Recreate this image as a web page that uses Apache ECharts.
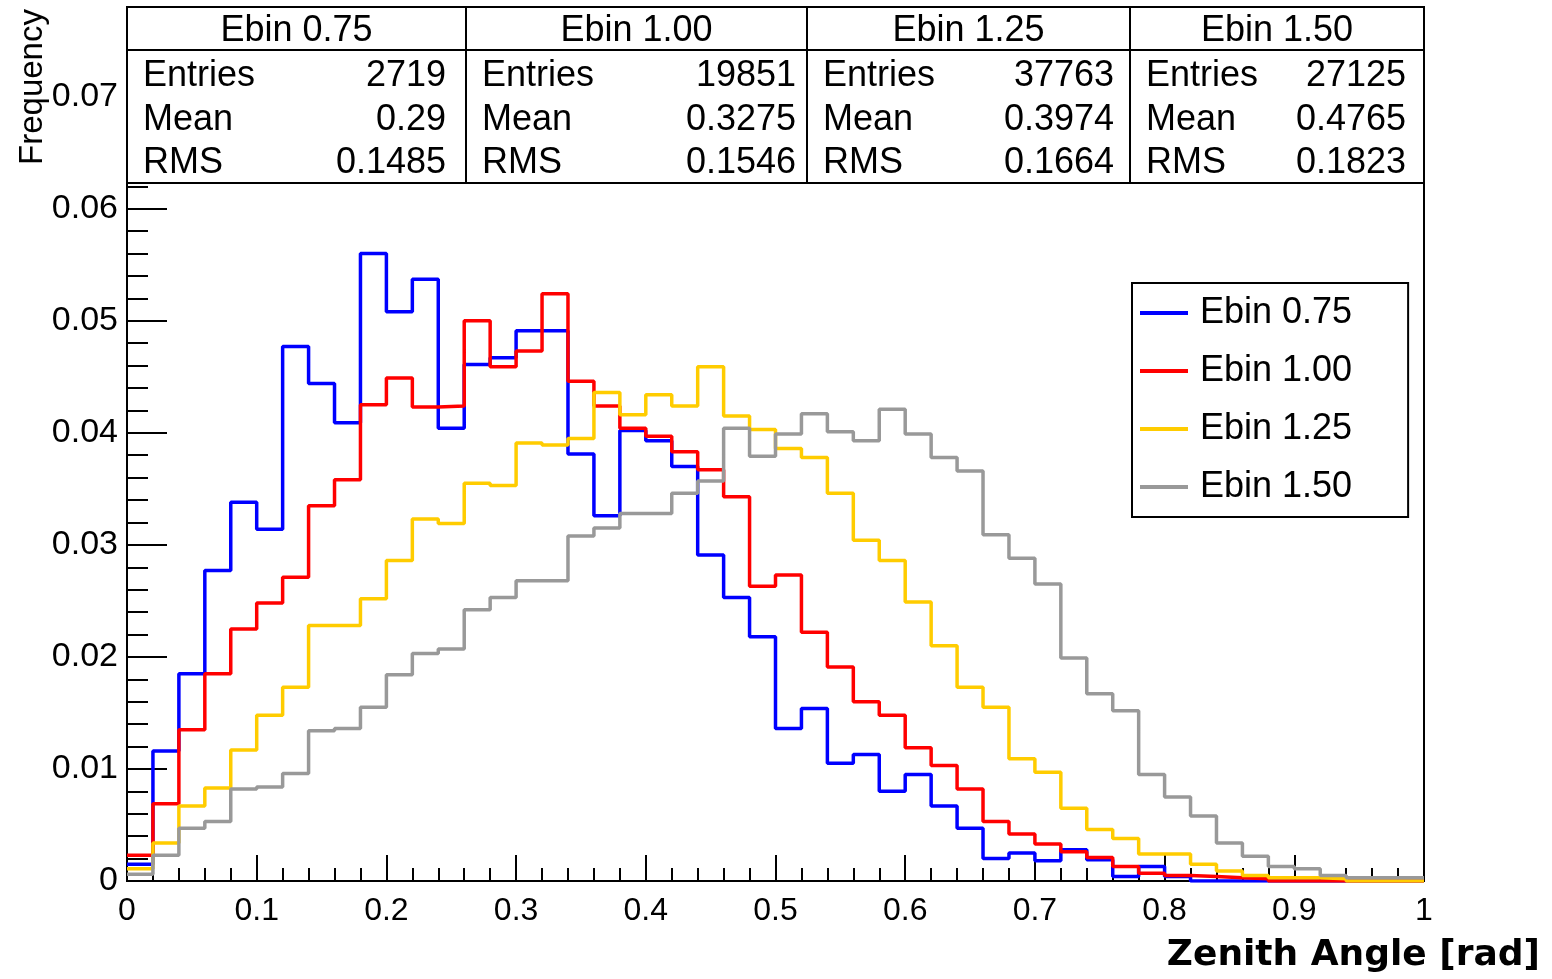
<!DOCTYPE html>
<html>
<head>
<meta charset="utf-8">
<script src="https://cdn.jsdelivr.net/npm/echarts@6/dist/echarts.min.js"></script>
<style>
  html, body { margin: 0; padding: 0; background: #fff; }
  #chart { width: 1552px; height: 979px; }
</style>
</head>
<body>
<div id="chart"></div>
<script>
// bin low edges (0.02 wide), last entry is the upper edge of the last bin
const binEdges = [0, 0.02, 0.04, 0.06, 0.08, 0.10, 0.12, 0.14, 0.16, 0.18,
  0.20, 0.22, 0.24, 0.26, 0.28, 0.30, 0.32, 0.34, 0.36, 0.38,
  0.40, 0.42, 0.44, 0.46, 0.48, 0.50, 0.52, 0.54, 0.56, 0.58,
  0.60, 0.62, 0.64, 0.66, 0.68, 0.70, 0.72, 0.74, 0.76, 0.78,
  0.80, 0.82, 0.84, 0.86, 0.88, 0.90, 0.92, 0.94, 0.96, 0.98, 1.00];

const ebin075 = [0.0015, 0.0116, 0.0185, 0.0277, 0.0338, 0.0314, 0.0477, 0.0444, 0.0409, 0.0560,
  0.0508, 0.0537, 0.0404, 0.0461, 0.0467, 0.0491, 0.0491, 0.0381, 0.0326, 0.0402,
  0.0393, 0.0370, 0.0291, 0.0253, 0.0218, 0.0136, 0.0154, 0.0105, 0.0113, 0.0080,
  0.0095, 0.0067, 0.0047, 0.0020, 0.0025, 0.0018, 0.0028, 0.0019, 0.0004, 0.0013,
  0.0004, 0, 0, 0, 0, 0, 0, 0, 0, 0];

const ebin100 = [0.0023, 0.0069, 0.0135, 0.0185, 0.0225, 0.0248, 0.0271, 0.0335, 0.0358, 0.0425,
  0.0449, 0.0423, 0.0424, 0.0500, 0.0459, 0.0473, 0.0524, 0.0446, 0.0424, 0.0404,
  0.0397, 0.0383, 0.0367, 0.0343, 0.0263, 0.0273, 0.0222, 0.0191, 0.0160, 0.0148,
  0.0119, 0.0103, 0.0082, 0.0053, 0.0042, 0.0033, 0.0026, 0.0021, 0.0013, 0.0007,
  0.0005, 0.0004, 0.0003, 0.0002, 0, 0, 0, 0, 0, 0];

const ebin125 = [0.0011, 0.0034, 0.0067, 0.0083, 0.0117, 0.0148, 0.0173, 0.0228, 0.0228, 0.0252,
  0.0286, 0.0323, 0.0319, 0.0355, 0.0353, 0.0391, 0.0389, 0.0395, 0.0436, 0.0416,
  0.0434, 0.0424, 0.0459, 0.0415, 0.0403, 0.0386, 0.0378, 0.0346, 0.0304, 0.0286,
  0.0249, 0.0210, 0.0173, 0.0155, 0.0109, 0.0097, 0.0065, 0.0046, 0.0038, 0.0024,
  0.0024, 0.0015, 0.0009, 0.0005, 0.0003, 0.0003, 0.0002, 0, 0, 0];

const ebin150 = [0.0006, 0.0023, 0.0047, 0.0053, 0.0082, 0.0084, 0.0096, 0.0134, 0.0136, 0.0155,
  0.0184, 0.0203, 0.0207, 0.0242, 0.0253, 0.0268, 0.0268, 0.0308, 0.0315, 0.0328,
  0.0328, 0.0346, 0.0357, 0.0404, 0.0379, 0.0399, 0.0417, 0.0401, 0.0393, 0.0421,
  0.0399, 0.0378, 0.0366, 0.0309, 0.0288, 0.0265, 0.0199, 0.0167, 0.0152, 0.0095,
  0.0075, 0.0058, 0.0034, 0.0022, 0.0013, 0.0011, 0.0005, 0.0003, 0.0003, 0.0003];

const seriesNames = ['Ebin 0.75', 'Ebin 1.00', 'Ebin 1.25', 'Ebin 1.50'];
const seriesValues = [ebin075, ebin100, ebin125, ebin150];
const seriesColors = ['#0000ff', '#ff0000', '#ffcc00', '#999999'];

// stats boxes
const statEntries = ['2719', '19851', '37763', '27125'];
const statMean = ['0.29', '0.3275', '0.3974', '0.4765'];
const statRMS = ['0.1485', '0.1546', '0.1664', '0.1823'];

const FONT = 'Liberation Sans, Arial, Helvetica, sans-serif';

// histogram -> step points (low edge, content) plus closing upper edge
function toSteps(values) {
  const pts = values.map((v, i) => [binEdges[i], v]);
  pts.push([binEdges[values.length], values[values.length - 1]]);
  return pts;
}

function statBoxes() {
  const xs = [127, 466, 807, 1130, 1424];
  const rightPad = [20, 11, 16, 18];
  const top = 7, mid = 50, bottom = 183;
  const rows = [['Entries', statEntries], ['Mean', statMean], ['RMS', statRMS]];
  const rowY = [76, 120, 163];
  const els = [];
  for (let i = 0; i < 4; i++) {
    const x0 = xs[i], x1 = xs[i + 1];
    els.push({
      type: 'rect', z: 10,
      shape: { x: x0, y: top, width: x1 - x0, height: bottom - top },
      style: { fill: '#fff', stroke: '#000', lineWidth: 2 }
    });
    els.push({
      type: 'line', z: 11,
      shape: { x1: x0, y1: mid, x2: x1, y2: mid },
      style: { stroke: '#000', lineWidth: 2 }
    });
    els.push({
      type: 'text', z: 11, x: (x0 + x1) / 2, y: 31,
      style: { text: seriesNames[i], font: '36px ' + FONT, fill: '#000', align: 'center', verticalAlign: 'middle' }
    });
    rows.forEach((r, k) => {
      els.push({
        type: 'text', z: 11, x: x0 + 16, y: rowY[k],
        style: { text: r[0], font: '36px ' + FONT, fill: '#000', align: 'left', verticalAlign: 'middle' }
      });
      els.push({
        type: 'text', z: 11, x: x1 - rightPad[i], y: rowY[k],
        style: { text: r[1][i], font: '36px ' + FONT, fill: '#000', align: 'right', verticalAlign: 'middle' }
      });
    });
  }
  return els;
}

const chart = echarts.init(document.getElementById('chart'));

chart.setOption({
  animation: false,
  backgroundColor: '#fff',
  grid: {
    left: 127, right: 128, top: 7, bottom: 98,
    show: true, borderColor: '#000', borderWidth: 2, backgroundColor: 'transparent',
    outerBoundsMode: 'none'
  },
  xAxis: {
    type: 'value', min: 0, max: 1, interval: 0.1,
    axisLine: { show: true, onZero: false, lineStyle: { color: '#000', width: 2 } },
    axisTick: { show: true, inside: true, length: 26, lineStyle: { color: '#000', width: 2 } },
    minorTick: { show: true, splitNumber: 5, length: 13, lineStyle: { color: '#000', width: 2 } },
    splitLine: { show: false },
    axisLabel: {
      margin: 14, color: '#000', fontSize: 32, fontFamily: FONT,
      formatter: v => (v === 0 ? '0' : v >= 0.999 ? '1' : v.toFixed(1))
    }
  },
  yAxis: {
    type: 'value', min: 0, max: 0.078, interval: 0.01,
    axisLine: { show: true, onZero: false, lineStyle: { color: '#000', width: 2 } },
    axisTick: { show: true, inside: true, length: 40, lineStyle: { color: '#000', width: 2 } },
    minorTick: { show: true, splitNumber: 5, length: 21, lineStyle: { color: '#000', width: 2 } },
    splitLine: { show: false },
    axisLabel: {
      margin: 9, color: '#000', fontSize: 34, fontFamily: FONT, showMaxLabel: false,
      formatter: v => (v === 0 ? '0' : v.toFixed(2))
    }
  },
  legend: {
    orient: 'vertical', left: 1132, top: 283,
    padding: [12, 56, 12, 8], itemGap: 22,
    itemWidth: 48, itemHeight: 4, icon: 'rect',
    borderColor: '#000', borderWidth: 2, backgroundColor: '#fff',
    textStyle: { color: '#000', fontSize: 36, fontFamily: FONT, padding: [0, 0, 0, 7] },
    data: seriesNames
  },
  series: seriesNames.map((name, i) => ({
    name: name,
    type: 'line',
    step: 'end',
    showSymbol: false,
    color: seriesColors[i],
    lineStyle: { color: seriesColors[i], width: 3.5 },
    data: toSteps(seriesValues[i])
  })),
  graphic: statBoxes().concat([
    {
      type: 'text', x: 33, y: 87, rotation: Math.PI / 2, z: 11,
      style: { text: 'Frequency', font: '33px ' + FONT, fill: '#000', align: 'center', verticalAlign: 'middle' }
    },
    {
      type: 'text', x: 1540, y: 956, z: 11,
      style: { text: 'Zenith Angle [rad]', font: 'bold 36px "DejaVu Sans", sans-serif', fill: '#000', align: 'right', verticalAlign: 'middle' }
    }
  ])
});
</script>
</body>
</html>
